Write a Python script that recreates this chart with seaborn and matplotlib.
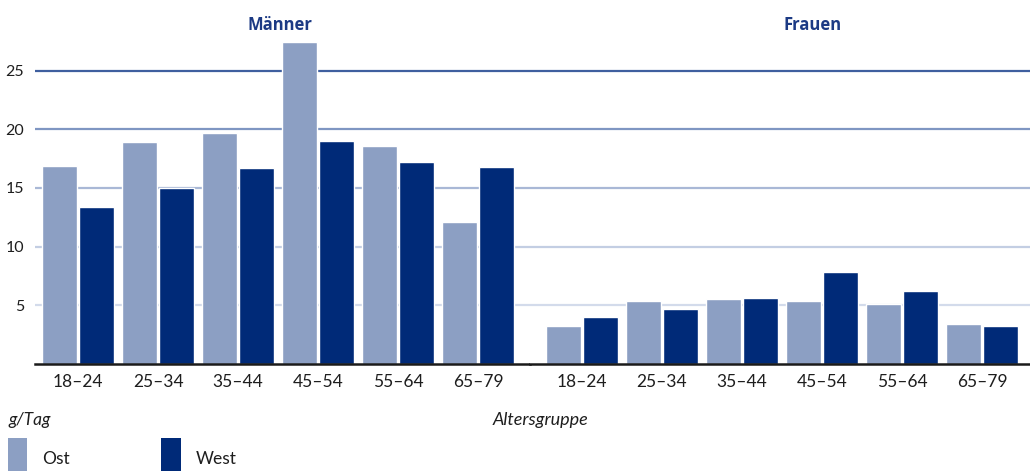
import numpy as np
import pandas as pd
import matplotlib
matplotlib.use("Agg")
import matplotlib.pyplot as plt
import seaborn as sns
from matplotlib.patches import Patch

age_groups = ["18–24", "25–34", "35–44", "45–54", "55–64", "65–79"]
regions = ["Ost", "West"]

# g/Tag
maenner_ost = [16.9, 18.9, 19.7, 27.4, 18.6, 12.1]
maenner_west = [13.4, 15.0, 16.7, 19.0, 17.2, 16.8]
frauen_ost = [3.25, 5.4, 5.5, 5.4, 5.1, 3.4]
frauen_west = [4.0, 4.7, 5.6, 7.8, 6.2, 3.25]

y_ticks = [5, 10, 15, 20, 25]
grid_colors = ["#d3dbeb", "#c3cee3", "#a9b8d6", "#7f96c2", "#3f5f9f"]

colors = {"Ost": "#8c9fc3", "West": "#002a78"}
title_color = "#1c3a84"
text_color = "#1e1e1e"


def long_table(ost, west):
    return pd.DataFrame({
        "age": age_groups * 2,
        "region": ["Ost"] * len(ost) + ["West"] * len(west),
        "value": list(ost) + list(west),
    })


df_m = long_table(maenner_ost, maenner_west)
df_f = long_table(frauen_ost, frauen_west)

sns.set_theme(style="white")
plt.rcParams["font.family"] = ["Lato", "DejaVu Sans"]

fig = plt.figure(figsize=(10.30, 4.71), dpi=100)
W, H = 1030, 471
bottom = (H - 364) / H
height = (364 - 40) / H
ax_m = fig.add_axes([35 / W, bottom, (530 - 35) / W, height])
ax_f = fig.add_axes([530 / W, bottom, (1030 - 530) / W, height], sharey=ax_m)

for ax, df, xlim, title, tx in [
    (ax_m, df_m, (-0.54, 5.65), "Männer", 0.495),
    (ax_f, df_f, (-0.65, 5.6), "Frauen", 0.565),
]:
    for yv, gc in zip(y_ticks, grid_colors):
        ax.axhline(yv, color=gc, lw=1.6, zorder=0)
    sns.barplot(data=df, x="age", y="value", hue="region", order=age_groups,
                hue_order=regions, palette=colors, width=0.92, gap=0.05,
                saturation=1, legend=False, ax=ax, zorder=2)
    ax.set_xlim(*xlim)
    ax.set_ylim(0, 27.6)
    ax.set_xlabel("")
    ax.set_ylabel("")
    ax.text(tx, 1.045, title, transform=ax.transAxes, ha="center", va="center",
            fontsize=12, fontweight="bold", color=title_color,
            family=["Open Sans", "DejaVu Sans"])
    for s in ["top", "right", "left"]:
        ax.spines[s].set_visible(False)
    ax.spines["bottom"].set_color("#1a1a1a")
    ax.spines["bottom"].set_linewidth(1.8)
    ax.tick_params(axis="x", length=0, pad=7, labelsize=12.5, labelcolor=text_color)
    ax.tick_params(axis="y", length=0, pad=8, labelsize=11.5, labelcolor=text_color)

ax_m.set_yticks(y_ticks)
ax_m.set_yticklabels([str(v) for v in y_ticks])
ax_f.tick_params(axis="y", labelleft=False)

fig.text(8 / W, 1 - 420 / H, "g/Tag", ha="left", va="center", fontsize=12.5,
         style="italic", color=text_color)
fig.text(540 / W, 1 - 420 / H, "Altersgruppe", ha="center", va="center",
         fontsize=13, style="italic", color=text_color)

handles = [Patch(facecolor=colors[r], edgecolor="none", label=r) for r in regions]
fig.legend(handles=handles, loc="upper left", bbox_to_anchor=(8 / W, 1 - 438 / H),
           ncol=2, frameon=False, borderpad=0, borderaxespad=0,
           handlelength=1.1, handleheight=3.4, handletextpad=0.85,
           columnspacing=5.3, fontsize=12.5, labelcolor=text_color)

fig.savefig("out.png", dpi=100)
